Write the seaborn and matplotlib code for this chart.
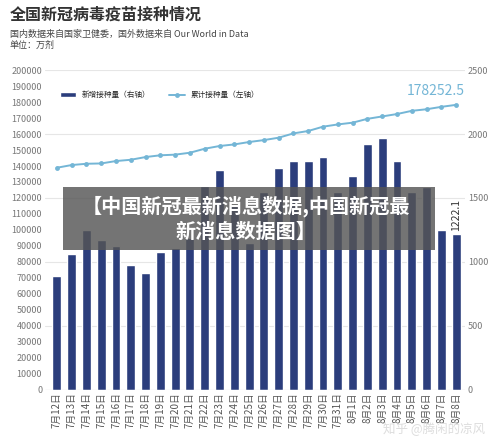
import matplotlib
matplotlib.use("Agg")
import matplotlib.pyplot as plt
import matplotlib.patches as mpatches
import seaborn as sns
import pandas as pd

dates = ["7月12日","7月13日","7月14日","7月15日","7月16日","7月17日","7月18日","7月19日","7月20日","7月21日",
         "7月22日","7月23日","7月24日","7月25日","7月26日","7月27日","7月28日","7月29日","7月30日","7月31日",
         "8月1日","8月2日","8月3日","8月4日","8月5日","8月6日","8月7日","8月8日"]
daily = [887,1062,1250,1175,1125,975,912,1075,1112,1187,1594,1719,1445,1150,1550,1737,1787,1787,1820,1550,
         1675,1925,1969,1787,1550,1587,1250,1222.1]
cumulative = [138900,140600,141400,141600,143100,143900,145600,146700,147100,148300,150800,152500,153500,155000,
              156200,157700,160400,161900,164600,166000,167100,169500,171000,172500,174500,175500,177000,178252.5]
left_ticks = list(range(0, 200001, 10000))
right_ticks = list(range(0, 2501, 500))

sns.set_theme(style="white")
plt.rcParams['font.family'] = ['Noto Sans CJK SC', 'DejaVu Sans']

df = pd.DataFrame({"date": dates, "daily": daily, "cum": cumulative})
fig = plt.figure(figsize=(5, 4.38), dpi=100)
ax = fig.add_axes([0.09, 0.11, 0.84, 0.73])
ax2 = ax.twinx()
ax.set_zorder(ax2.get_zorder() + 1)
ax.patch.set_visible(False)

bar_c = "#2b3d7c"
line_c = "#74b6d6"
sns.barplot(data=df, x="date", y="daily", ax=ax2, color=bar_c, width=0.6, saturation=1, label="新增接种量（右轴）")
sns.lineplot(data=df, x="date", y="cum", ax=ax, color=line_c, marker="o", markersize=3.5, markeredgewidth=0,
             lw=1.4, label="累计接种量（左轴）")

ax.set_ylim(0, 200000); ax.set_yticks(left_ticks)
ax2.set_ylim(0, 2500); ax2.set_yticks(right_ticks)
for a in (ax, ax2):
    a.set_xlabel(""); a.set_ylabel("")
    for s in a.spines.values():
        s.set_visible(False)
    a.tick_params(length=0, labelsize=6.5, labelcolor="#777777", pad=2)
ax2.yaxis.grid(True, color="#e6e6e6", lw=0.8)
ax2.set_axisbelow(True)
ax.set_xlim(-0.8, len(dates) - 0.4)
ax.set_xticks(range(len(dates)))
ax.set_xticklabels(dates, rotation=90, fontsize=7, color="#555555")
ax.axhline(0, color="#cccccc", lw=0.8)

ax.annotate(f"{cumulative[-1]}", (len(dates) - 1, cumulative[-1]), xytext=(6, 5), textcoords="offset points",
            ha="right", va="bottom", fontsize=10, color=line_c)
ax2.text(len(dates) - 1, daily[-1] + 20, f"{daily[-1]}", rotation=90, ha="center", va="bottom", fontsize=7.5, color="#333333")

h1, l1 = ax2.get_legend_handles_labels()
h2, l2 = ax.get_legend_handles_labels()
if ax2.get_legend(): ax2.get_legend().remove()
ax.legend(h1 + h2, l1 + l2, loc="upper left", bbox_to_anchor=(0.02, 0.955), ncol=2, frameon=False, fontsize=5.5,
          handlelength=2, columnspacing=2.5)

fig.text(0.02, 0.955, "全国新冠病毒疫苗接种情况", fontsize=11.5, fontweight="bold", color="#333333")
fig.text(0.02, 0.915, "国内数据来自国家卫健委，国外数据来自 Our World in Data", fontsize=6.5, color="#444444")
fig.text(0.02, 0.89, "单位：万剂", fontsize=6.5, color="#444444")
fig.patches.append(mpatches.Rectangle((0.126, 0.429), 0.744, 0.144, transform=fig.transFigure,
                                      fc="#555555", ec="none", alpha=0.82, zorder=10))
fig.text(0.492, 0.501, "【中国新冠最新消息数据,中国新冠最\n新消息数据图】", ha="center", va="center", fontsize=14.5,
         fontweight="bold", color="white", linespacing=1.25, zorder=11)
fig.text(0.97, 0.005, "知乎 @腾闲的凉风", ha="right", va="bottom", fontsize=9, color="#dddddd")
fig.savefig("out.png", dpi=100)
